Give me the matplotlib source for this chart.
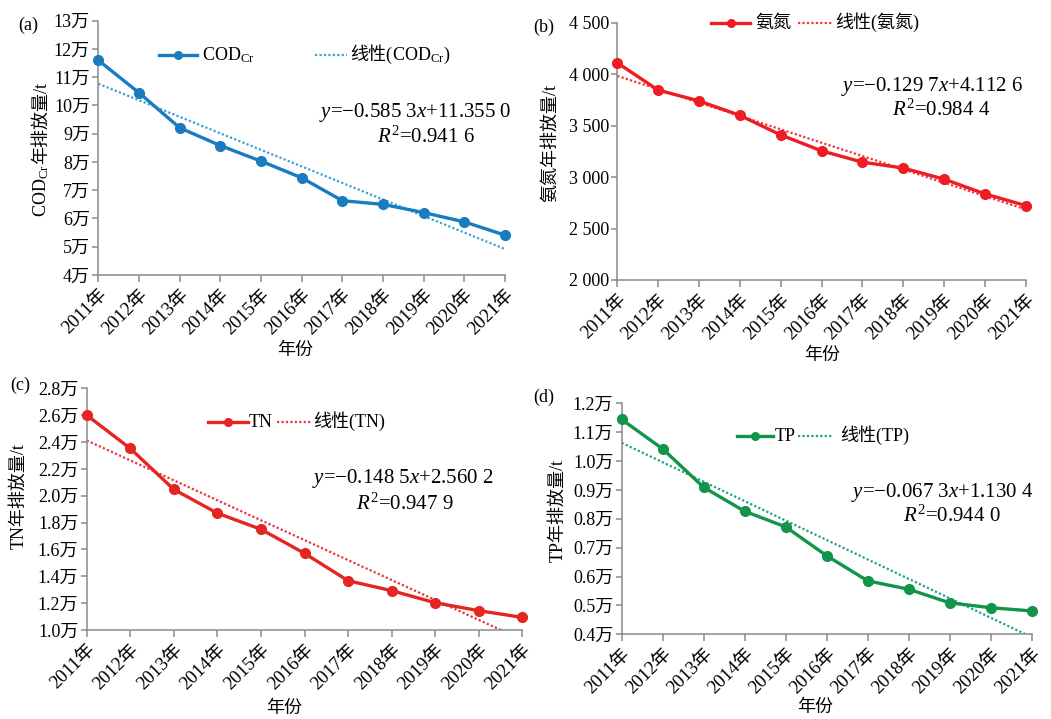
import numpy as np
import matplotlib
matplotlib.use('Agg')
import matplotlib.pyplot as plt
from matplotlib.lines import Line2D

plt.rcParams['font.family'] = ['Liberation Serif', 'Noto Sans CJK SC']
plt.rcParams['mathtext.fontset'] = 'custom'
plt.rcParams['mathtext.rm'] = 'Liberation Serif'
plt.rcParams['mathtext.it'] = 'Liberation Serif:italic'
plt.rcParams['mathtext.bf'] = 'Liberation Serif:bold'

# ---------------- data ----------------
years = ['2011年', '2012年', '2013年', '2014年', '2015年', '2016年',
         '2017年', '2018年', '2019年', '2020年', '2021年']
xidx = list(range(1, 12))

cod = [11.60, 10.45, 9.21, 8.58, 8.03, 7.44, 6.63, 6.50, 6.21, 5.88, 5.41]      # 万t
nh3n = [4110, 3845, 3740, 3600, 3410, 3255, 3145, 3088, 2980, 2837, 2723]       # t
tn = [2.60, 2.352, 2.047, 1.870, 1.750, 1.571, 1.367, 1.293, 1.203, 1.144, 1.094]  # 万t
tp = [1.144, 1.042, 0.909, 0.826, 0.772, 0.672, 0.585, 0.556, 0.509, 0.492, 0.481]  # 万t

# linear trend equations shown in the chart (slope, intercept)
cod_fit = [-0.5853, 11.3550]
nh3n_fit = [-0.1297, 4.1126]   # thousand t
tn_fit = [-0.1485, 2.5602]
tp_fit = [-0.0673, 1.1304]

cod_ticks = [4, 5, 6, 7, 8, 9, 10, 11, 12, 13]
cod_labels = ['4万', '5万', '6万', '7万', '8万', '9万', '10万', '11万', '12万', '13万']
nh3n_ticks = [2000, 2500, 3000, 3500, 4000, 4500]
nh3n_labels = ['2 000', '2 500', '3 000', '3 500', '4 000', '4 500']
tn_ticks = [1.0, 1.2, 1.4, 1.6, 1.8, 2.0, 2.2, 2.4, 2.6, 2.8]
tn_labels = ['1.0万', '1.2万', '1.4万', '1.6万', '1.8万', '2.0万', '2.2万', '2.4万', '2.6万', '2.8万']
tp_ticks = [0.4, 0.5, 0.6, 0.7, 0.8, 0.9, 1.0, 1.1, 1.2]
tp_labels = ['0.4万', '0.5万', '0.6万', '0.7万', '0.8万', '0.9万', '1.0万', '1.1万', '1.2万']

# ---------------- figure ----------------
W, H = 1051, 719
fig = plt.figure(figsize=(W / 100, H / 100), dpi=100)
fig.patch.set_facecolor('white')

FS = 13
SPINE = '#8a8a8a'


def fx(px):
    return px / W


def fy(py):
    return 1 - py / H


def add_ax(l, t, r, b):
    return fig.add_axes([fx(l), fy(b), (r - l) / W, (b - t) / H])


def style(ax, ticks, labels, ylim):
    ax.set_xlim(1, 11)
    ax.set_ylim(*ylim)
    ax.set_xticks(xidx)
    ax.set_xticklabels(years, rotation=45, ha='right', va='top',
                       rotation_mode='anchor', fontsize=13.5)
    ax.set_yticks(ticks)
    ax.set_yticklabels(labels, fontsize=FS)
    for s in ['top', 'right']:
        ax.spines[s].set_visible(False)
    for s in ['left', 'bottom']:
        ax.spines[s].set_color(SPINE)
        ax.spines[s].set_linewidth(1.1)
    ax.tick_params(axis='x', direction='out', length=5, width=1.1, color=SPINE, pad=3)
    ax.tick_params(axis='y', direction='out', length=4, width=1.1, color=SPINE, pad=2)
    ax.patch.set_alpha(0)


def draw(ax, vals, fit, scale, c_line, c_fit):
    xs = np.array(xidx, dtype=float)
    ax.plot(xidx, vals, color=c_line, lw=2.4, marker='o', ms=7, clip_on=False, zorder=3)
    ax.plot(xs, (fit[0] * xs + fit[1]) * scale, color=c_fit, lw=1.6,
            ls=(0, (1, 1)), zorder=2)


def legend_key(x1, x2, y, color, dotted=False):
    if dotted:
        fig.add_artist(Line2D([fx(x1), fx(x2)], [fy(y), fy(y)], color=color, lw=1.6,
                              ls=(0, (1, 1)), transform=fig.transFigure))
    else:
        fig.add_artist(Line2D([fx(x1), fx(x2)], [fy(y), fy(y)], color=color, lw=2.4,
                              transform=fig.transFigure))
        fig.add_artist(Line2D([fx((x1 + x2) / 2)], [fy(y)], color=color, marker='o', ms=5.5,
                              transform=fig.transFigure))


BLUE, BLUE_F = '#1a7cc0', '#3aa0d6'
RED_B, RED_BF = '#ee1d23', '#f0353a'
RED_C, RED_CF = '#e52521', '#e8343a'
GREEN, GREEN_F = '#12954a', '#1fa28a'

# ---- (a) ----
axa = add_ax(98.3, 20.7, 505, 275)
draw(axa, cod, cod_fit, 1.0, BLUE, BLUE_F)
style(axa, cod_ticks, cod_labels, (4, 13))

# ---- (b) ----
axb = add_ax(617.3, 22.7, 1025.7, 280)
draw(axb, nh3n, nh3n_fit, 1000.0, RED_B, RED_BF)
style(axb, nh3n_ticks, nh3n_labels, (2000, 4500))

# ---- (c) ----
axc = add_ax(86.7, 388.3, 522.3, 630)
draw(axc, tn, tn_fit, 1.0, RED_C, RED_CF)
style(axc, tn_ticks, tn_labels, (1.0, 2.8))

# ---- (d) ----
axd = add_ax(621.7, 403.3, 1031.7, 634.3)
draw(axd, tp, tp_fit, 1.0, GREEN, GREEN_F)
style(axd, tp_ticks, tp_labels, (0.4, 1.2))

# ---------------- panel letters ----------------
for lab, (x, y) in zip(['(a)', '(b)', '(c)', '(d)'],
                       [(28, 25), (544, 27), (20, 385), (544, 397)]):
    fig.text(fx(x), fy(y), lab, fontsize=FS, ha='center', va='center')

# ---------------- x labels ----------------
for (x, y) in [(295, 350), (822, 355), (284, 708), (815, 707)]:
    fig.text(fx(x), fy(y), '年份', fontsize=FS, ha='center', va='center')

# ---------------- y labels ----------------
t1 = fig.text(fx(46), fy(217), 'COD$_{\\mathrm{Cr}}$', fontsize=FS, rotation=90,
              rotation_mode='anchor', ha='left', va='baseline')
axa.annotate('年排放量/t', xy=(fx(46), 1.0), xycoords=('figure fraction', t1),
             fontsize=FS, rotation=90, rotation_mode='anchor', ha='left', va='baseline',
             annotation_clip=False)
fig.text(fx(551), fy(143), '氨氮年排放量/t', fontsize=FS, rotation=90, ha='center', va='center')
fig.text(fx(19), fy(496), 'TN年排放量/t', fontsize=FS, rotation=90, ha='center', va='center')
fig.text(fx(558), fy(510), 'TP年排放量/t', fontsize=FS, rotation=90, ha='center', va='center')

# ---------------- legends ----------------
LY = 55
legend_key(159, 197, LY, BLUE)
fig.text(fx(202), fy(LY + 5), 'COD$_{\\mathrm{Cr}}$', fontsize=FS, ha='left', va='baseline')
legend_key(315, 347, LY, BLUE_F, dotted=True)
tl = fig.text(fx(350), fy(LY + 5), '线性(', fontsize=FS, ha='left', va='baseline')
axa.annotate('COD$_{\\mathrm{Cr}}$)', xy=(1.0, fy(LY + 5)), xycoords=(tl, 'figure fraction'),
             fontsize=FS, ha='left', va='baseline', annotation_clip=False)

LY = 23
legend_key(711, 750, LY, RED_B)
fig.text(fx(755), fy(LY + 5), '氨氮', fontsize=FS, ha='left', va='baseline')
legend_key(798, 833, LY, RED_BF, dotted=True)
fig.text(fx(835), fy(LY + 5), '线性(氨氮)', fontsize=FS, ha='left', va='baseline')

LY = 422
legend_key(208, 248, LY, RED_C)
fig.text(fx(249), fy(LY + 5), 'TN', fontsize=FS, ha='left', va='baseline')
legend_key(277, 312, LY, RED_CF, dotted=True)
fig.text(fx(313), fy(LY + 5), '线性(TN)', fontsize=FS, ha='left', va='baseline')

LY = 436
legend_key(737, 773, LY, GREEN)
fig.text(fx(775), fy(LY + 5), 'TP', fontsize=FS, ha='left', va='baseline')
legend_key(798, 832, LY, GREEN_F, dotted=True)
fig.text(fx(840), fy(LY + 5), '线性(TP)', fontsize=FS, ha='left', va='baseline')

# ---------------- equations ----------------
EQ = 15
eqs = [
    ('$y$=\u22120.585 3$x$+11.355 0', (415, 113), '$R^{\\mathrm{2}}$=0.941 6', (426, 137)),
    ('$y$=\u22120.129 7$x$+4.112 6', (932, 86), '$R^{\\mathrm{2}}$=0.984 4', (941, 110)),
    ('$y$=\u22120.148 5$x$+2.560 2', (403, 478), '$R^{\\mathrm{2}}$=0.947 9', (405, 504)),
    ('$y$=\u22120.067 3$x$+1.130 4', (942, 492), '$R^{\\mathrm{2}}$=0.944 0', (952, 516)),
]
for e1, p1, e2, p2 in eqs:
    fig.text(fx(p1[0]), fy(p1[1]), e1, fontsize=EQ, ha='center', va='center')
    fig.text(fx(p2[0]), fy(p2[1]), e2, fontsize=EQ, ha='center', va='center')

fig.savefig('out.png', dpi=100, facecolor='white')
